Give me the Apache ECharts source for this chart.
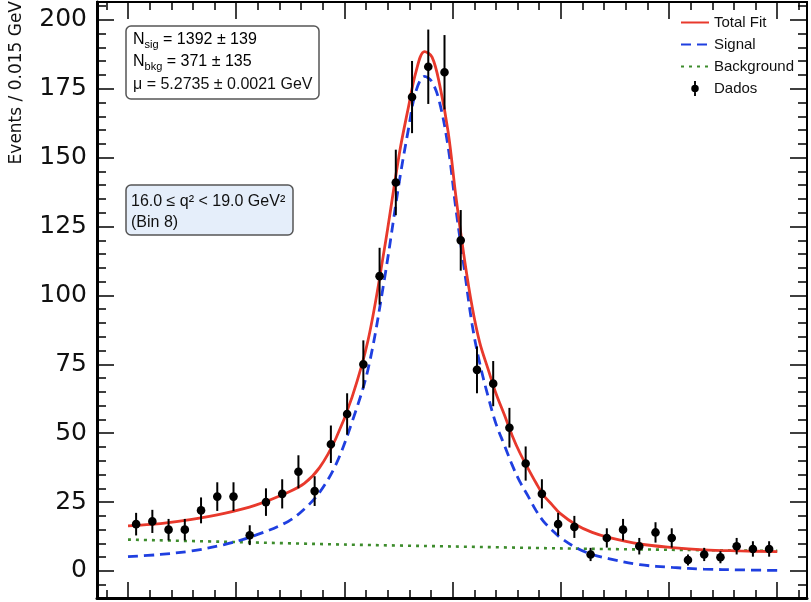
<!DOCTYPE html>
<html><head><meta charset="utf-8">
<script src="https://cdn.jsdelivr.net/npm/echarts@6/dist/echarts.min.js"></script>
<style>html,body{margin:0;padding:0;background:#fff}#c{width:811px;height:602px}</style>
</head><body><div id="c"></div>
<script>
// ---- data ----
const binCenters = [5.0075, 5.0225, 5.0375, 5.0525, 5.0675, 5.0825, 5.0975, 5.1125, 5.1275, 5.1425,
  5.1575, 5.1725, 5.1875, 5.2025, 5.2175, 5.2325, 5.2475, 5.2625, 5.2775, 5.2925,
  5.3075, 5.3225, 5.3375, 5.3525, 5.3675, 5.3825, 5.3975, 5.4125, 5.4275, 5.4425,
  5.4575, 5.4725, 5.4875, 5.5025, 5.5175, 5.5325, 5.5475, 5.5625, 5.5775, 5.5925];
const counts = [17, 18, 15, 15, 22, 27, 27, 13, 25, 28,
  36, 29, 46, 57, 75, 107, 141, 172, 183, 181,
  120, 73, 68, 52, 39, 28, 17, 16, 6, 12,
  15, 9, 14, 12, 4, 6, 5, 9, 8, 8];
const countErrors = [4.1, 4.2, 3.9, 3.9, 4.7, 5.2, 5.2, 3.6, 5.0, 5.3,
  6.0, 5.4, 6.8, 7.5, 8.7, 10.3, 11.9, 13.1, 13.5, 13.5,
  11.0, 8.5, 8.2, 7.2, 6.2, 5.3, 4.1, 4.0, 2.4, 3.5,
  3.9, 3.0, 3.7, 3.5, 2.0, 2.4, 2.2, 3.0, 2.8, 2.8];

const curveMass = [5.000, 5.030, 5.059, 5.089, 5.118, 5.148, 5.163, 5.177, 5.192, 5.207,
  5.222, 5.237, 5.251, 5.259, 5.266, 5.274, 5.281, 5.288, 5.296, 5.303,
  5.311, 5.318, 5.325, 5.333, 5.340, 5.348, 5.355, 5.362, 5.370, 5.377,
  5.384, 5.392, 5.399, 5.414, 5.429, 5.444, 5.473, 5.503, 5.532, 5.566, 5.600];
const totalFit = [16.4, 17.2, 18.7, 20.9, 23.9, 28.6, 31.8, 37.5, 48, 63,
  84, 117, 152, 168, 181, 188.5, 186.5, 176.5, 159, 136,
  113, 96, 83, 73, 64.5, 56.5, 49.2, 43, 37, 32,
  27.5, 24, 21, 16.8, 14, 12.2, 9.8, 8.5, 7.7, 7.3, 7.0];
const signalFit = [5.2, 6.0, 7.3, 9.6, 13.0, 18.0, 22.5, 28.5, 38.5, 54,
  73.5, 106, 142, 160, 174, 179.5, 177.5, 170, 153.5, 131.5,
  109, 89.5, 75.5, 63, 53.5, 45.5, 38.5, 32.5, 27, 22,
  18, 14.8, 12.3, 8.5, 6.0, 4.5, 2.3, 1.3, 0.7, 0.4, 0.2];
const bkgMass = [5.0, 5.1, 5.2, 5.3, 5.4, 5.5, 5.6];
const bkgFit = [11.4, 10.5, 9.6, 8.9, 8.2, 7.7, 7.3];

const xMajorTicks = [5.0, 5.1, 5.2, 5.3, 5.4, 5.5, 5.6];
const yTickLabels = [0, 25, 50, 75, 100, 125, 150, 175, 200];

// minor tick positions (axis decoration)
const xMinorTicks = [];
for (let i = 0; i <= 32; i++) { const v = Math.round((4.98 + i * 0.02) * 100) / 100; if (Math.abs(v * 10 - Math.round(v * 10)) > 1e-6) xMinorTicks.push(v); }
const yMinorTicks = [];
for (let v = -5; v <= 205; v += 5) { if (v % 25 !== 0) yMinorTicks.push(v); }

const X_MIN = 4.97135, X_MAX = 5.6275, Y_MIN = -9.8, Y_MAX = 206.5;
const FONT = 'Liberation Sans';

function xAx(pos, ticks, len, lineW, showLine) {
  return { type: 'value', position: pos, min: X_MIN, max: X_MAX,
    axisLine: { show: showLine, onZero: false, lineStyle: { color: '#000', width: lineW } },
    axisTick: { show: true, inside: true, length: len, customValues: ticks, lineStyle: { color: '#000', width: 1.5 } },
    axisLabel: { show: false }, splitLine: { show: false } };
}
function yAx(pos, ticks, len, lineW, showLine, labels) {
  return { type: 'value', position: pos, min: Y_MIN, max: Y_MAX,
    axisLine: { show: showLine, onZero: false, lineStyle: { color: '#000', width: lineW } },
    axisTick: { show: true, inside: true, length: len, customValues: ticks, lineStyle: { color: '#000', width: 1.5 } },
    axisLabel: labels ? { show: true, customValues: labels, margin: 10, fontSize: 25, fontFamily: 'DejaVu Sans', color: '#111' } : { show: false },
    splitLine: { show: false } };
}

const chart = echarts.init(document.getElementById('c'), null, { renderer: 'canvas' });
chart.setOption({
  backgroundColor: '#fff',
  animation: false,
  grid: { left: 97, right: 4, top: 2, bottom: 4, show: true, borderColor: '#000', borderWidth: 2, backgroundColor: 'transparent' },
  xAxis: [
    xAx('bottom', xMajorTicks, 16, 3, true),
    xAx('bottom', xMinorTicks, 8, 3, false),
    xAx('top', xMajorTicks, 17, 2, true),
    xAx('top', xMinorTicks, 8, 2, false)
  ],
  yAxis: [
    yAx('left', yTickLabels, 17, 3, true, yTickLabels),
    yAx('left', yMinorTicks, 9, 3, false, null),
    yAx('right', yTickLabels, 17, 2, true, null),
    yAx('right', yMinorTicks, 9, 2, false, null)
  ],
  legend: {
    orient: 'vertical', left: 675, top: 10, itemWidth: 28, itemHeight: 15, itemGap: 7,
    selectedMode: false,
    textStyle: { fontFamily: FONT, fontSize: 15, color: '#111' },
    data: [
      { name: 'Total Fit', itemStyle: { opacity: 0 } },
      { name: 'Signal', itemStyle: { opacity: 0 } },
      { name: 'Background', itemStyle: { opacity: 0 } },
      { name: 'Dados', icon: 'path://M5,0L7,0L7,5L5,5Z M2,8A4,4 0 1 1 10,8A4,4 0 1 1 2,8Z M5,11L7,11L7,16L5,16Z' }
    ]
  },
  graphic: [
    { type: 'text', x: 17, y: 1, rotation: Math.PI / 2,
      style: { text: 'Events / 0.015 GeV', fontFamily: 'DejaVu Sans', fontSize: 17, fill: '#111', align: 'right', verticalAlign: 'middle' } },
    { type: 'rect', shape: { x: 126, y: 26, width: 193, height: 73, r: 5 }, style: { fill: '#fff', stroke: '#555', lineWidth: 1.5 }, z: 100 },
    { type: 'text', x: 133, y: 40, z: 101, style: { text: '{a|N}{s|sig}{a| = 1392 ± 139}', verticalAlign: 'middle',
      rich: { a: { fontFamily: FONT, fontSize: 16, lineHeight: 20, color: '#111' }, s: { fontFamily: FONT, fontSize: 11, lineHeight: 14, verticalAlign: 'bottom', color: '#111' } } } },
    { type: 'text', x: 133, y: 62, z: 101, style: { text: '{a|N}{s|bkg}{a| = 371 ± 135}', verticalAlign: 'middle',
      rich: { a: { fontFamily: FONT, fontSize: 16, lineHeight: 20, color: '#111' }, s: { fontFamily: FONT, fontSize: 11, lineHeight: 14, verticalAlign: 'bottom', color: '#111' } } } },
    { type: 'text', x: 133, y: 85, z: 101, style: { text: 'μ = 5.2735 ± 0.0021 GeV', fontFamily: FONT, fontSize: 16, fill: '#111', verticalAlign: 'middle' } },
    { type: 'rect', shape: { x: 126, y: 185, width: 167, height: 50, r: 5 }, style: { fill: '#e5eefa', stroke: '#555', lineWidth: 1.5 }, z: 100 },
    { type: 'text', x: 131, y: 202, z: 101, style: { text: '16.0 ≤ q² < 19.0 GeV²', fontFamily: FONT, fontSize: 16, fill: '#111', verticalAlign: 'middle' } },
    { type: 'text', x: 131, y: 223, z: 101, style: { text: '(Bin 8)', fontFamily: FONT, fontSize: 16, fill: '#111', verticalAlign: 'middle' } }
  ],
  series: [
    { name: 'Background', type: 'line', xAxisIndex: 0, yAxisIndex: 0, symbol: 'none', smooth: 0.3,
      data: bkgMass.map((m, i) => [m, bkgFit[i]]),
      lineStyle: { color: '#3d8c2c', width: 2.6, type: [3, 5] }, itemStyle: { color: '#3d8c2c' }, z: 2 },
    { name: 'Signal', type: 'line', xAxisIndex: 0, yAxisIndex: 0, symbol: 'none', smooth: 0.35,
      data: curveMass.map((m, i) => [m, signalFit[i]]),
      lineStyle: { color: '#1f3fe0', width: 2.8, type: [10, 6] }, itemStyle: { color: '#1f3fe0' }, z: 3 },
    { name: 'Total Fit', type: 'line', xAxisIndex: 0, yAxisIndex: 0, symbol: 'none', smooth: 0.35,
      data: curveMass.map((m, i) => [m, totalFit[i]]),
      lineStyle: { color: '#e8392c', width: 2.8 }, itemStyle: { color: '#e8392c' }, z: 4 },
    { name: 'Dados', type: 'custom', xAxisIndex: 0, yAxisIndex: 0, z: 5,
      data: binCenters.map((x, i) => [x, counts[i], countErrors[i]]),
      encode: { x: 0, y: 1 },
      itemStyle: { color: '#000' },
      renderItem: function (params, api) {
        const x = api.value(0), y = api.value(1), e = api.value(2);
        const p = api.coord([x, y]);
        const t = api.coord([x, y + e]);
        const b = api.coord([x, y - e]);
        return { type: 'group', children: [
          { type: 'line', shape: { x1: p[0], y1: t[1], x2: p[0], y2: b[1] }, style: { stroke: '#000', lineWidth: 2 } },
          { type: 'circle', shape: { cx: p[0], cy: p[1], r: 4.3 }, style: { fill: '#000' } }
        ] };
      } }
  ]
});
</script></body></html>
